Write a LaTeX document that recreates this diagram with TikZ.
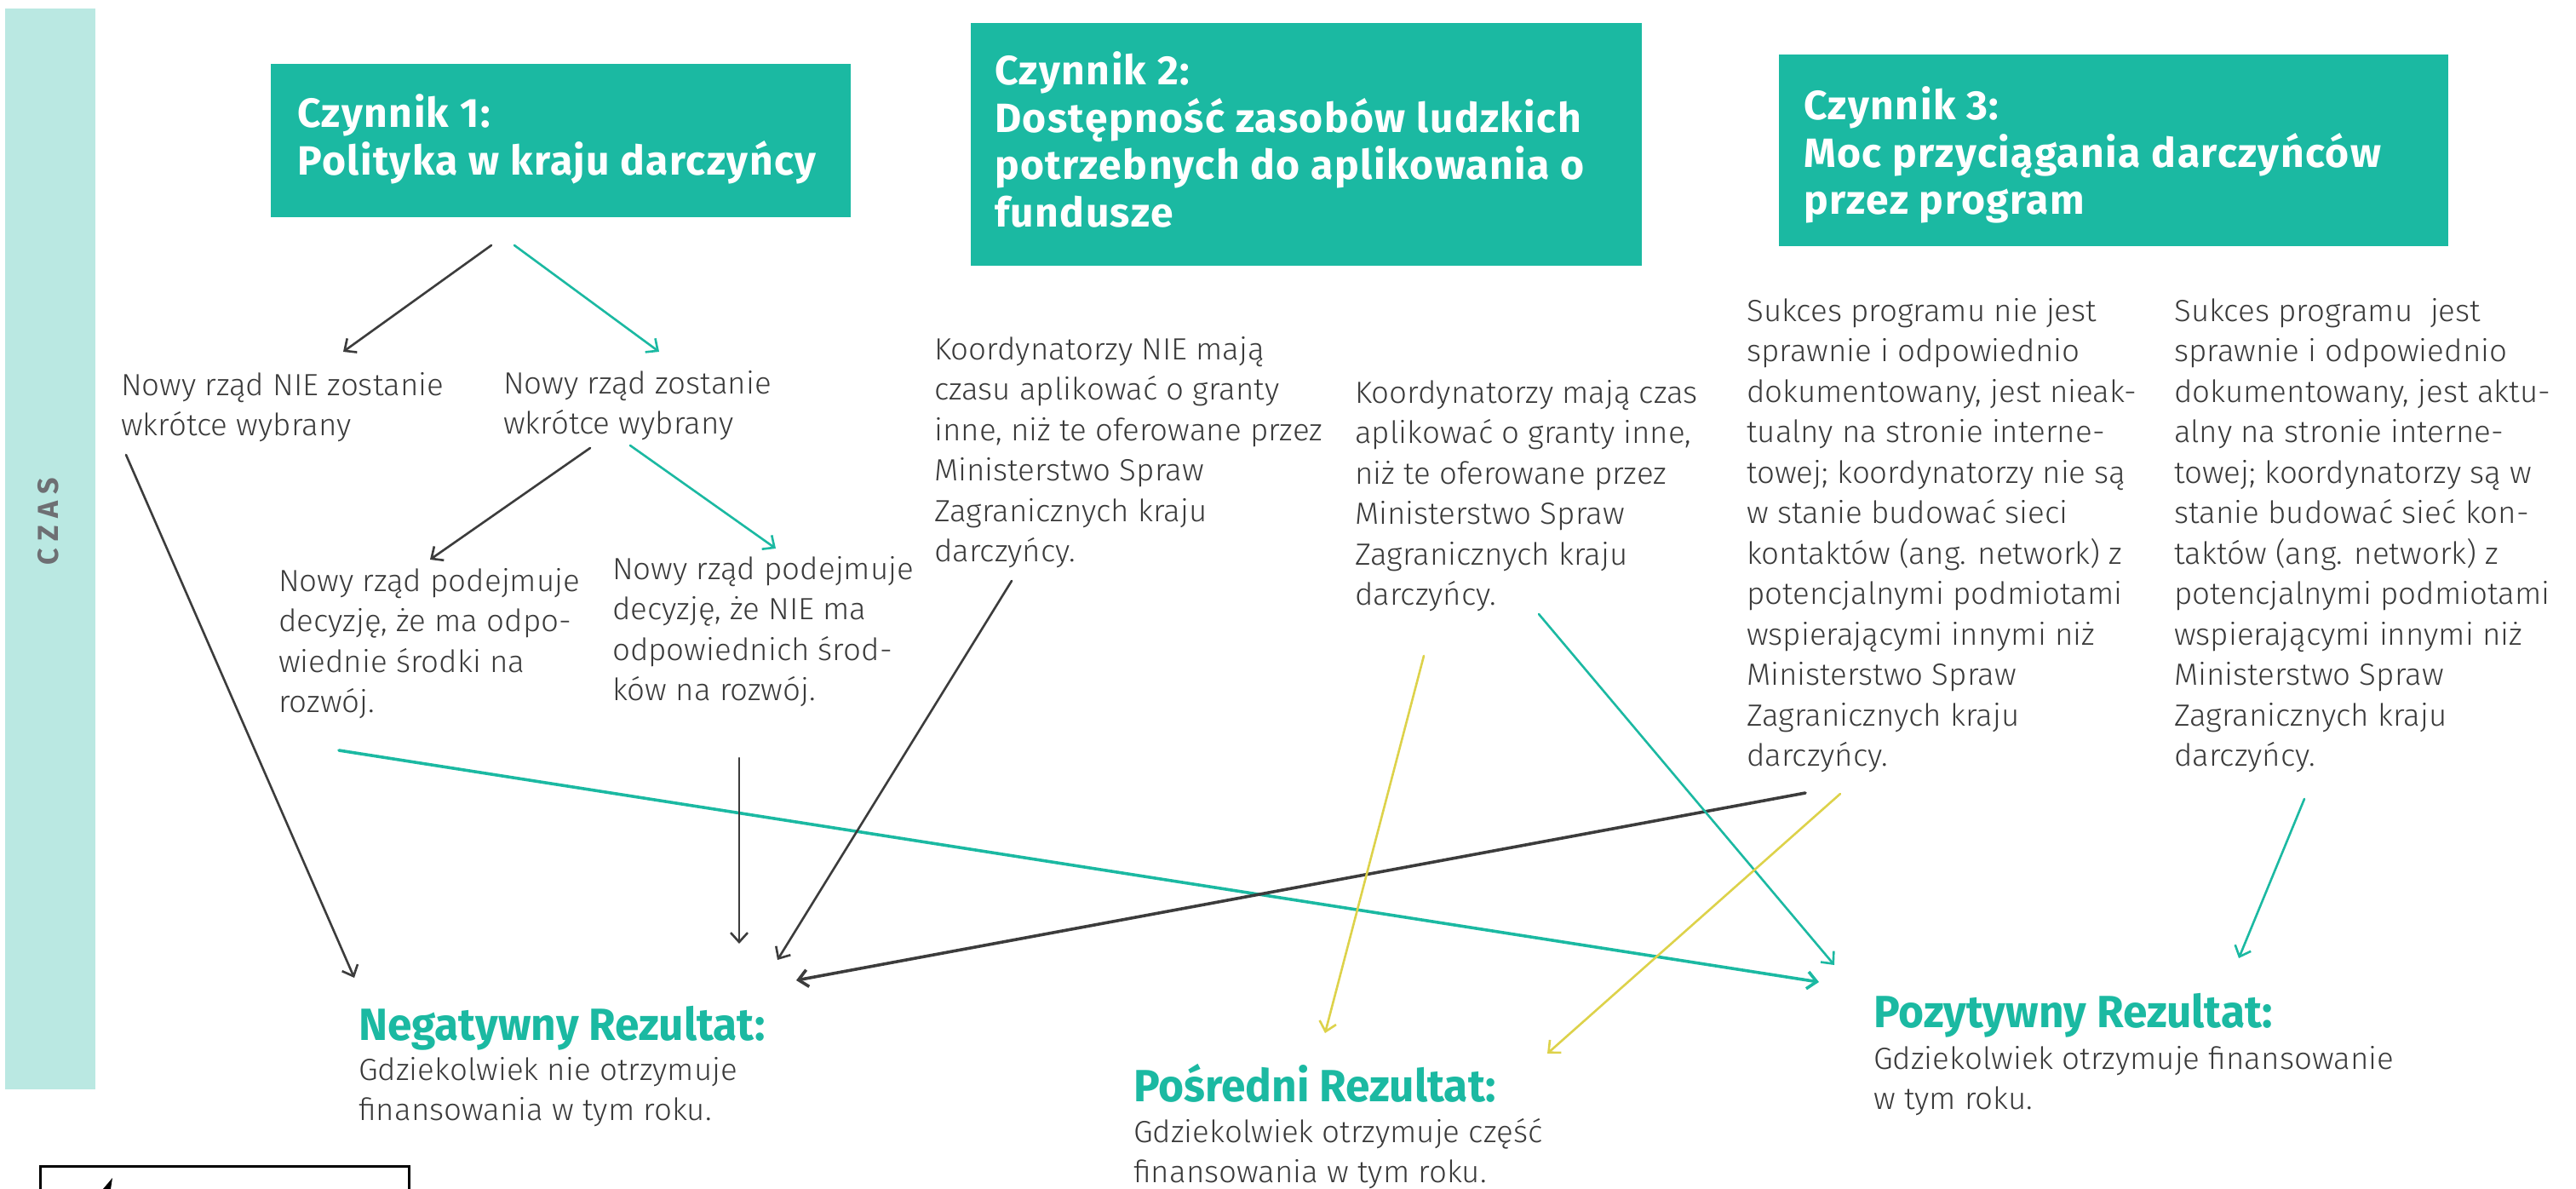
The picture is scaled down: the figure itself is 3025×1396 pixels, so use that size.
\documentclass[tikz,border=0pt]{standalone}
\usepackage{fontspec}
\usetikzlibrary{arrows.meta}
\definecolor{tealc}{HTML}{1BB9A2}
\definecolor{barc}{HTML}{BAE8E2}
\definecolor{txtc}{HTML}{3A3A3A}
\definecolor{linc}{HTML}{3C3C3C}
\definecolor{yelc}{HTML}{DDD24A}
\definecolor{czasc}{HTML}{6E6F73}
\newfontfamily\bodyf{Fira Sans Light}[FakeStretch=1.02]
\newfontfamily\headf{Fira Sans}[FakeStretch=1.0,LetterSpace=3]
\newfontfamily\resf{Fira Sans}[FakeStretch=0.97]
\newfontfamily\czasf{Fira Sans}[LetterSpace=25]
\tikzset{
  body/.style={anchor=base west, inner sep=0pt, align=left, text=txtc,
    font=\bodyf\fontsize{36pt}{47.5pt}\selectfont},
  title/.style={anchor=base west, inner sep=0pt, align=left, text=white,
    font=\headf\bfseries\fontsize{48pt}{55.5pt}\selectfont},
  reshead/.style={anchor=base west, inner sep=0pt, text=tealc,
    font=\resf\bfseries\fontsize{53pt}{60pt}\selectfont},
  factorbox/.style={fill=tealc, anchor=north west, inner sep=0pt},
  conn/.style={line width=2.6pt, line cap=round, -{Straight Barb[length=11pt,width=20pt]}},
  thick conn/.style={conn, line width=3.6pt},
}
\begin{document}
\begin{tikzpicture}[x=1pt,y=-1pt]
\path[use as bounding box] (0,0) rectangle (3025,1396);
\clip (0,0) rectangle (3025,1396);
\fill[white] (0,0) rectangle (3025,1396);

% time bar
\node[fill=barc, anchor=north west, inner sep=0pt, minimum width=106pt, minimum height=1269pt] (bar) at (6,10) {};
\node[rotate=90, text=czasc, font=\czasf\bfseries\fontsize{34pt}{40pt}\selectfont] (czas) at (57,612) {CZAS};

% factor boxes (text anchors: baseline of the last line)
\node[factorbox, minimum width=681pt, minimum height=180pt] (f1) at (318,75) {};
\node[title] (f1t) at (349,205.5) {Czynnik 1:\\Polityka w kraju darczyńcy};
\node[factorbox, minimum width=788pt, minimum height=285pt] (f2) at (1140,27) {};
\node[title] (f2t) at (1168,266.5) {Czynnik 2:\\Dostępność zasobów ludzkich\\potrzebnych do aplikowania o\\fundusze};
\node[factorbox, minimum width=786pt, minimum height=225pt] (f3) at (2089,64) {};
\node[title] (f3t) at (2118,252) {Czynnik 3:\\Moc przyciągania darczyńców\\przez program};

% scenario texts
\node[body] (t1) at (142,511.5) {Nowy rząd NIE zostanie\\wkrótce wybrany};
\node[body] (t2) at (591,509.5) {Nowy rząd zostanie\\wkrótce wybrany};
\node[body] (t3) at (327,836.5) {Nowy rząd podejmuje\\decyzję, że ma odpo-\\wiednie środki na\\rozwój.};
\node[body] (t4) at (719,822.5) {Nowy rząd podejmuje\\decyzję, że NIE ma\\odpowiednich środ-\\ków na rozwój.};
\node[body] (t5) at (1097,659.5) {Koordynatorzy NIE mają\\czasu aplikować o granty\\inne, niż te oferowane przez\\Ministerstwo Spraw\\Zagranicznych kraju\\darczyńcy.};
\node[body] (t6) at (1591,710.5) {Koordynatorzy mają czas\\aplikować o granty inne,\\niż te oferowane przez\\Ministerstwo Spraw\\Zagranicznych kraju\\darczyńcy.};
\node[body] (t7) at (2051,899.5) {Sukces programu nie jest\\sprawnie i odpowiednio\\dokumentowany, jest nieak-\\tualny na stronie interne-\\towej; koordynatorzy nie są\\w stanie budować sieci\\kontaktów (ang. network) z\\potencjalnymi podmiotami\\wspierającymi innymi niż\\Ministerstwo Spraw\\Zagranicznych kraju\\darczyńcy.};
\node[body] (t8) at (2553,899.5) {Sukces programu\ \ jest\\sprawnie i odpowiednio\\dokumentowany, jest aktu-\\alny na stronie interne-\\towej; koordynatorzy są w\\stanie budować sieć kon-\\taktów (ang. network) z\\potencjalnymi podmiotami\\wspierającymi innymi niż\\Ministerstwo Spraw\\Zagranicznych kraju\\darczyńcy.};

% results
\node[reshead] (neg) at (421,1221) {Negatywny Rezultat:};
\node[body] (negt) at (421,1315.5) {Gdziekolwiek nie otrzymuje\\finansowania w tym roku.};
\node[reshead] (pos) at (1331,1293) {Pośredni Rezultat:};
\node[body] (post) at (1331,1388.5) {Gdziekolwiek otrzymuje część\\finansowania w tym roku.};
\node[reshead] (poz) at (2200,1206) {Pozytywny Rezultat:};
\node[body] (pozt) at (2200,1302.5) {Gdziekolwiek otrzymuje finansowanie\\w tym roku.};

% connector end points
\coordinate (a1s) at (577,288);  \coordinate (a1e) at (403,413);
\coordinate (a2s) at (604,288);  \coordinate (a2e) at (774,413);
\coordinate (a3s) at (693,526);  \coordinate (a3e) at (505,657);
\coordinate (a4s) at (740,523);  \coordinate (a4e) at (911,644);
\coordinate (a5s) at (148,534);  \coordinate (a5e) at (416,1148);
\coordinate (a6s) at (398,881);  \coordinate (a6e) at (2136,1153);
\coordinate (a7s) at (868,890);  \coordinate (a7e) at (868,1108);
\coordinate (a8s) at (1188,682); \coordinate (a8e) at (913,1127);
\coordinate (a9s) at (2120,931); \coordinate (a9e) at (935,1151);
\coordinate (a10s) at (1672,770); \coordinate (a10e) at (1556,1213);
\coordinate (a11s) at (1807,721); \coordinate (a11e) at (2154,1133);
\coordinate (a12s) at (2161,932); \coordinate (a12e) at (1817,1237);
\coordinate (a13s) at (2706,938); \coordinate (a13e) at (2629,1125);

\draw[conn, linc] (a1s) -- (a1e);
\draw[conn, tealc] (a2s) -- (a2e);
\draw[conn, linc] (a3s) -- (a3e);
\draw[conn, tealc] (a4s) -- (a4e);
\draw[conn, linc] (a5s) -- (a5e);
\draw[thick conn, tealc] (a6s) -- (a6e);
\draw[conn, linc] (a7s) -- (a7e);
\draw[conn, linc] (a8s) -- (a8e);
\draw[thick conn, linc] (a9s) -- (a9e);
\draw[conn, yelc] (a10s) -- (a10e);
\draw[conn, tealc] (a11s) -- (a11e);
\draw[conn, yelc] (a12s) -- (a12e);
\draw[conn, tealc] (a13s) -- (a13e);

% cut-off box at the bottom left
\draw[line width=3pt, black] (47,1440) -- (47,1369) -- (480,1369) -- (480,1440);
\fill[black] (121,1396) -- (132,1383) -- (130,1396) -- cycle;
\end{tikzpicture}
\end{document}
